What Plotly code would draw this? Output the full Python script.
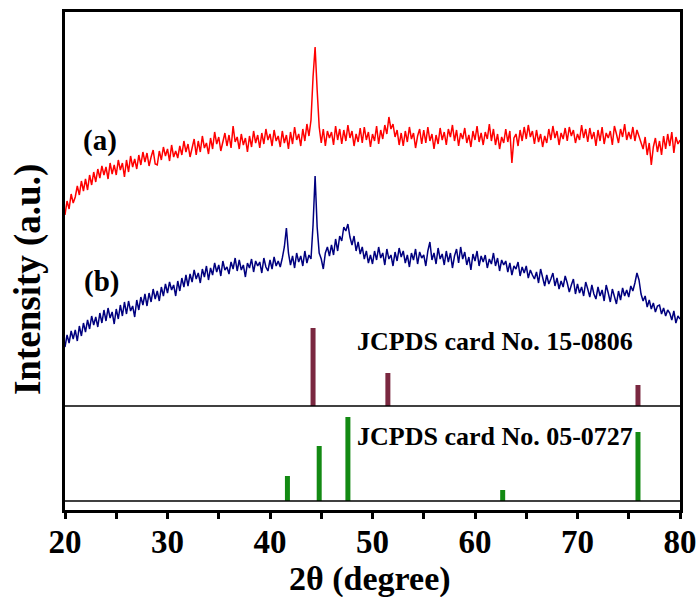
import plotly.graph_objects as go

# ---------------- data ----------------
two_theta_start = 20.0
two_theta_step = 0.2

# sample (a): red pattern, intensity (a.u.), 0.2 deg steps from 20 to 80
intensity_a = [
    300, 314, 306, 321, 312,
    318, 329, 320, 334, 324,
    336, 325, 340, 330, 343,
    333, 346, 337, 349, 340,
    348, 336, 352, 341, 350,
    340, 355, 345, 352, 338,
    355, 343, 359, 348, 356,
    346, 360, 350, 363, 353,
    362, 349, 358, 365, 351,
    350, 364, 355, 368, 359,
    366, 354, 370, 358, 364,
    357, 369, 360, 374, 363,
    371, 358, 367, 376, 360,
    374, 363, 379, 367, 372,
    361, 377, 366, 383, 371,
    378, 364, 375, 382, 369,
    380, 367, 389, 373, 378,
    366, 381, 370, 377, 363,
    379, 368, 384, 372, 380,
    367, 382, 371, 386, 375,
    381, 369, 385, 374, 379,
    368, 384, 372, 380, 366,
    383, 371, 388, 375, 381,
    369, 386, 374, 391, 379,
    395, 438, 468, 425, 388,
    372, 386, 369, 384, 377,
    383, 370, 389, 375, 386,
    371, 385, 374, 390, 377,
    384, 369, 381, 373, 387,
    372, 388, 375, 383, 368,
    381, 374, 389, 371, 385,
    376, 390, 381, 398, 386,
    391, 378, 385, 370, 382,
    369, 384, 373, 388, 376,
    382, 367, 379, 386, 371,
    385, 372, 388, 374, 381,
    366, 380, 371, 387, 375,
    383, 370, 386, 378, 390,
    374, 385, 369, 382, 376,
    387, 372, 380, 368, 384,
    375, 389, 373, 382, 370,
    383, 376, 391, 374, 386,
    370, 381, 366, 378, 372,
    386, 373, 384, 352, 377,
    381, 369, 385, 374, 388,
    376, 390, 378, 384, 371,
    385, 373, 381, 368, 379,
    372, 386, 375, 389, 377,
    384, 370, 382, 376, 387,
    374, 388, 379, 385, 372,
    381, 375, 390, 377, 386,
    373, 387, 376, 383, 369,
    385, 374, 388, 371, 382,
    377, 384, 370, 389, 381,
    372, 386, 378, 391, 375,
    383, 376, 388, 374, 385,
    379, 371, 366, 378, 360,
    372, 350, 368, 377, 363,
    374, 360, 379, 366, 381,
    369, 383, 362, 378, 371,
    375,
]

# sample (b): navy pattern
intensity_b = [
    168, 180, 172, 184, 176,
    185, 174, 189, 179, 192,
    183, 195, 186, 199, 190,
    198, 188, 202, 192, 205,
    194, 207, 197, 203, 191,
    206, 196, 210, 199, 213,
    201, 214, 204, 209, 198,
    215, 205, 218, 210, 221,
    209, 222, 213, 226, 216,
    224, 214, 228, 219, 231,
    222, 233, 225, 230, 219,
    234, 224, 237, 228, 240,
    229, 241, 233, 245, 236,
    242, 232, 246, 238, 249,
    235, 247, 240, 252, 243,
    250, 239, 254, 245, 248,
    241, 253, 246, 257, 244,
    255, 245, 250, 238, 252,
    247, 256, 243, 254, 249,
    253, 242, 257, 248, 244,
    255, 246, 258, 249, 254,
    248, 257, 268, 287, 262,
    250, 259, 247, 262, 253,
    259, 249, 264, 252, 260,
    256, 290, 339, 288, 262,
    256, 246, 262, 268, 259,
    270, 260, 276, 264, 279,
    274, 288, 284, 291, 278,
    270, 279, 264, 273, 261,
    268, 256, 264, 252, 260,
    251, 264, 255, 268, 257,
    262, 250, 266, 256, 260,
    249, 263, 254, 267, 258,
    264, 252, 260, 248, 262,
    255, 266, 251, 263, 257,
    260, 249, 264, 273, 255,
    262, 251, 267, 256, 261,
    250, 264, 253, 262, 247,
    259, 266, 252, 268, 256,
    263, 250, 258, 245, 261,
    254, 264, 249, 259, 253,
    260, 247, 256, 251, 262,
    249, 257, 244, 255, 250,
    254, 243, 252, 240, 249,
    246, 253, 239, 248, 242,
    249, 237, 245, 240, 236,
    243, 232, 246, 238, 229,
    240, 231, 236, 242, 229,
    237, 226, 234, 228, 239,
    232, 223, 230, 236, 221,
    231, 222, 228, 219, 233,
    226, 218, 230, 221, 216,
    228, 219, 225, 214, 230,
    222, 213, 226, 218, 211,
    224, 215, 227, 219, 225,
    218, 229, 224, 232, 242,
    235, 221, 214, 219, 208,
    215, 206, 212, 203, 209,
    210, 201, 207, 199, 205,
    202, 195, 204, 192, 199,
    196,
]

# reference stick patterns (2theta, stick height above its baseline)
jcpds_15_0806_pos = [44.2, 51.5, 75.9]
jcpds_15_0806_h = [78, 33, 21]
jcpds_15_0806_base = 109

jcpds_05_0727_pos = [41.7, 44.8, 47.6, 62.7, 75.9]
jcpds_05_0727_h = [25, 55, 84, 11, 69]
jcpds_05_0727_base = 14

x_ticks = [20, 30, 40, 50, 60, 70, 80]
x_all_ticks = [20, 25, 30, 35, 40, 45, 50, 55, 60, 65, 70, 75, 80]

# ---------------- figure ----------------
theta_a = [two_theta_start + i * two_theta_step for i in range(len(intensity_a))]
theta_b = [two_theta_start + i * two_theta_step for i in range(len(intensity_b))]

FONT = "Liberation Serif, Times New Roman, serif"

fig = go.Figure()
fig.add_trace(go.Scatter(x=theta_a, y=intensity_a, mode="lines",
                         line=dict(color="#ff0000", width=1.5), showlegend=False))
fig.add_trace(go.Scatter(x=theta_b, y=intensity_b, mode="lines",
                         line=dict(color="#00007f", width=1.5), showlegend=False))


def sticks(pos, h, base):
    xs, ys = [], []
    for p, v in zip(pos, h):
        xs += [p, p, None]
        ys += [base, base + v, None]
    return xs, ys


xs, ys = sticks(jcpds_15_0806_pos, jcpds_15_0806_h, jcpds_15_0806_base)
fig.add_trace(go.Scatter(x=xs, y=ys, mode="lines",
                         line=dict(color="#7a2840", width=5), showlegend=False))
xs, ys = sticks(jcpds_05_0727_pos, jcpds_05_0727_h, jcpds_05_0727_base)
fig.add_trace(go.Scatter(x=xs, y=ys, mode="lines",
                         line=dict(color="#138a13", width=5), showlegend=False))

# horizontal separator lines
for yv in (jcpds_15_0806_base, jcpds_05_0727_base):
    fig.add_shape(type="line", xref="x", yref="y", x0=20, x1=80, y0=yv, y1=yv,
                  line=dict(color="black", width=1.5))

ann_font = dict(family=FONT, color="black", weight="bold")
fig.add_annotation(x=23.45, y=375, xref="x", yref="y", text="(a)", showarrow=False,
                   font=dict(size=29, **ann_font))
fig.add_annotation(x=23.55, y=234, xref="x", yref="y", text="(b)", showarrow=False,
                   font=dict(size=29, **ann_font))
fig.add_annotation(x=48.3, y=174, xref="x", yref="y", text="JCPDS card No. 15-0806",
                   showarrow=False, xanchor="left", yanchor="middle",
                   font=dict(size=26, **ann_font))
fig.add_annotation(x=48.3, y=79, xref="x", yref="y", text="JCPDS card No. 05-0727",
                   showarrow=False, xanchor="left", yanchor="middle",
                   font=dict(size=26, **ann_font))

# axis titles
fig.add_annotation(x=-0.060, y=0.462, xref="paper", yref="paper", text="Intensity (a.u.)",
                   textangle=-90, showarrow=False, xanchor="center", yanchor="middle",
                   font=dict(size=37, **ann_font))
fig.add_annotation(x=0.496, y=-0.138, xref="paper", yref="paper", text="2θ (degree)",
                   showarrow=False, xanchor="center", yanchor="middle",
                   font=dict(size=34, **ann_font))

fig.update_xaxes(range=[20, 80], tickvals=x_ticks, ticktext=[str(t) for t in x_ticks],
                 ticks="", automargin=False,
                 minor=dict(tickvals=x_all_ticks, ticks="outside",
                            ticklen=6, tickwidth=3, tickcolor="black"),
                 showline=True, linewidth=3, linecolor="black", mirror=True,
                 showgrid=False, zeroline=False,
                 tickfont=dict(family=FONT, size=33, color="black", weight="bold"))
fig.update_yaxes(range=[5, 503], showticklabels=False, ticks="", automargin=False,
                 showline=True, linewidth=3, linecolor="black", mirror=True,
                 showgrid=False, zeroline=False)

fig.update_layout(width=699, height=597, margin=dict(l=65, r=19, t=12, b=87),
                  plot_bgcolor="white", paper_bgcolor="white")

fig.write_html("out.html")
